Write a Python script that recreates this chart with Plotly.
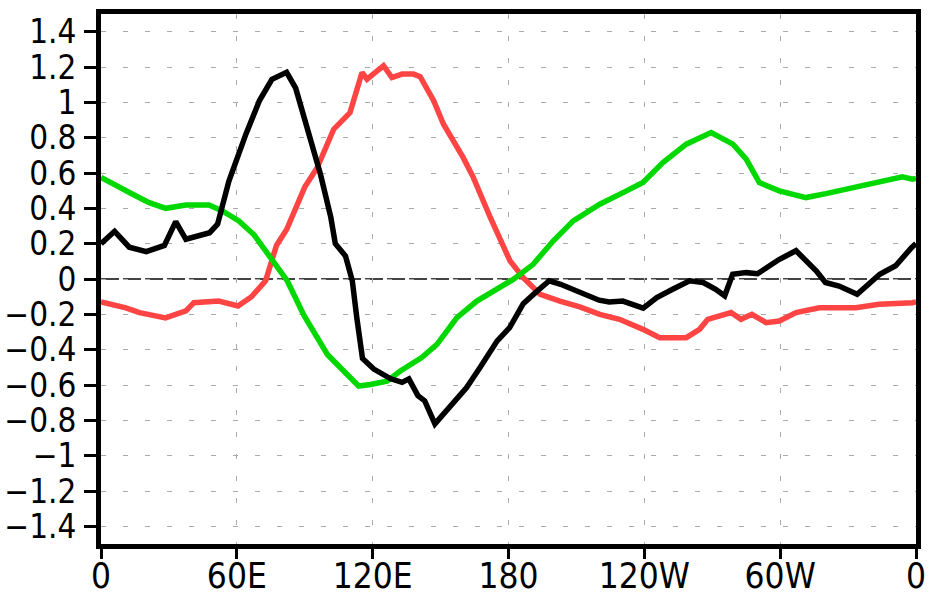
import plotly.graph_objects as go

# ---- data (longitude in degrees east 0..360, values) ----
black_lon = [0, 6, 12.5, 20, 28, 33, 37.5, 44, 48, 51.5, 56.5, 64, 70, 75.5, 82, 86, 91, 97, 101.5, 103.5,
             108, 111, 113, 115.5, 120.5, 128, 133, 136, 140, 143, 147.5, 154, 161.5, 167.5, 175, 180.5,
             186.5, 192.5, 198, 203, 207, 214.5, 220, 224.5, 230.5, 239.5, 245.5, 252.5, 260, 266, 271.5,
             275.5, 279, 285, 290, 299.5, 307, 316, 320, 326, 334, 344, 351, 358, 360]
black_val = [0.20, 0.27, 0.18, 0.155, 0.19, 0.325, 0.225, 0.245, 0.262, 0.31, 0.555, 0.82, 1.01, 1.13, 1.17,
             1.08, 0.85, 0.59, 0.35, 0.20, 0.13, -0.01, -0.22, -0.45, -0.51, -0.565, -0.585, -0.565, -0.66,
             -0.69, -0.82, -0.73, -0.615, -0.50, -0.35, -0.275, -0.14, -0.07, -0.01, -0.03, -0.05, -0.085,
             -0.12, -0.13, -0.125, -0.165, -0.105, -0.058, -0.01, -0.02, -0.058, -0.095, 0.027, 0.036, 0.03,
             0.11, 0.16, 0.045, -0.02, -0.04, -0.087, 0.027, 0.075, 0.177, 0.20]

red_lon = [0, 11, 17, 28.5, 37.5, 41, 52, 60.5, 66.5, 72.7, 77.5, 82, 90, 95.5, 102.8, 110, 115.3, 117.5, 122,
           124.8, 128.5, 133, 138, 141, 147, 151.3, 160, 164.5, 172, 180.7, 186.5, 194, 202.7, 211.5, 220.3,
           229, 239.4, 246.8, 258.5, 264.4, 268, 273.2, 278.3, 282.7, 287.5, 293.8, 299.6, 307, 317.3, 333.4,
           343.7, 358.4, 360]
red_val = [-0.13, -0.163, -0.19, -0.22, -0.18, -0.134, -0.125, -0.153, -0.10, -0.01, 0.19, 0.28, 0.52, 0.63,
           0.848, 0.942, 1.169, 1.131, 1.178, 1.207, 1.14, 1.16, 1.16, 1.145, 1.008, 0.876, 0.687, 0.574, 0.347,
           0.102, 0.007, -0.087, -0.125, -0.158, -0.20, -0.228, -0.285, -0.332, -0.332, -0.285, -0.228, -0.21,
           -0.19, -0.228, -0.20, -0.247, -0.238, -0.19, -0.163, -0.163, -0.143, -0.134, -0.13]

green_lon = [0, 6.6, 14, 21.3, 28.6, 37.5, 47.7, 53.6, 60.9, 67.6, 75, 82.3, 89.6, 100, 107.2, 113.8, 119,
             126.3, 132.2, 141.5, 148.4, 157.2, 166, 176.3, 182.1, 190.9, 199.7, 208.6, 220.3, 230.6, 239.4,
             248.2, 258.5, 269.5, 279.1, 285, 290.8, 299.6, 311.4, 320.2, 333.4, 343.7, 354, 358.4, 360]
green_val = [0.575, 0.527, 0.48, 0.432, 0.40, 0.419, 0.419, 0.385, 0.329, 0.25, 0.12, -0.011, -0.205, -0.427,
             -0.521, -0.606, -0.597, -0.578, -0.521, -0.446, -0.37, -0.219, -0.125, -0.049, -0.002, 0.083,
             0.215, 0.329, 0.423, 0.489, 0.546, 0.659, 0.763, 0.829, 0.763, 0.678, 0.546, 0.499, 0.461, 0.483,
             0.517, 0.551, 0.578, 0.565, 0.57]

x_tickvals = [0, 60, 120, 180, 240, 300, 360]
x_ticktext = ["0", "60E", "120E", "180", "120W", "60W", "0"]
y_tickvals = [1.4, 1.2, 1.0, 0.8, 0.6, 0.4, 0.2, 0, -0.2, -0.4, -0.6, -0.8, -1.0, -1.2, -1.4]
y_ticktext = ["1.4", "1.2", "1", "0.8", "0.6", "0.4", "0.2", "0", "\u22120.2", "\u22120.4", "\u22120.6",
              "\u22120.8", "\u22121", "\u22121.2", "\u22121.4"]

FONT = "DejaVu Sans Condensed, DejaVu Sans, sans-serif"

fig = go.Figure()
fig.add_trace(go.Scatter(x=red_lon, y=red_val, mode="lines",
                         line=dict(color="#ff4444", width=5.5), showlegend=False))
fig.add_trace(go.Scatter(x=green_lon, y=green_val, mode="lines",
                         line=dict(color="#00d800", width=5.5), showlegend=False))
fig.add_trace(go.Scatter(x=black_lon, y=black_val, mode="lines",
                         line=dict(color="#000000", width=5.5), showlegend=False))

fig.add_hline(y=0, line=dict(color="#444444", width=2, dash="18px,4px"), layer="below")

fig.update_layout(
    width=937, height=599,
    margin=dict(l=101, r=21, t=14, b=55),
    paper_bgcolor="white", plot_bgcolor="white",
    showlegend=False,
)
fig.update_xaxes(
    range=[0, 360], tickmode="array", tickvals=x_tickvals, ticktext=x_ticktext,
    showline=True, linecolor="black", linewidth=5, mirror=True,
    ticks="outside", ticklen=10, tickwidth=3, tickcolor="black",
    showgrid=True, gridcolor="#aaaaaa", gridwidth=1.2, griddash="5px,17px",
    zeroline=False, automargin=False,
    tickfont=dict(family=FONT, size=35, color="black"),
    ticklabelstandoff=-13,
)
fig.update_yaxes(
    range=[-1.5, 1.5], tickmode="array", tickvals=y_tickvals, ticktext=y_ticktext,
    showline=True, linecolor="black", linewidth=5, mirror=True,
    ticks="outside", ticklen=12, tickwidth=3, tickcolor="black",
    showgrid=True, gridcolor="#aaaaaa", gridwidth=1.2, griddash="5px,17px",
    zeroline=False, automargin=False,
    tickfont=dict(family=FONT, size=33, color="black"),
    ticklabelstandoff=1,
)

fig.write_html("out.html")
